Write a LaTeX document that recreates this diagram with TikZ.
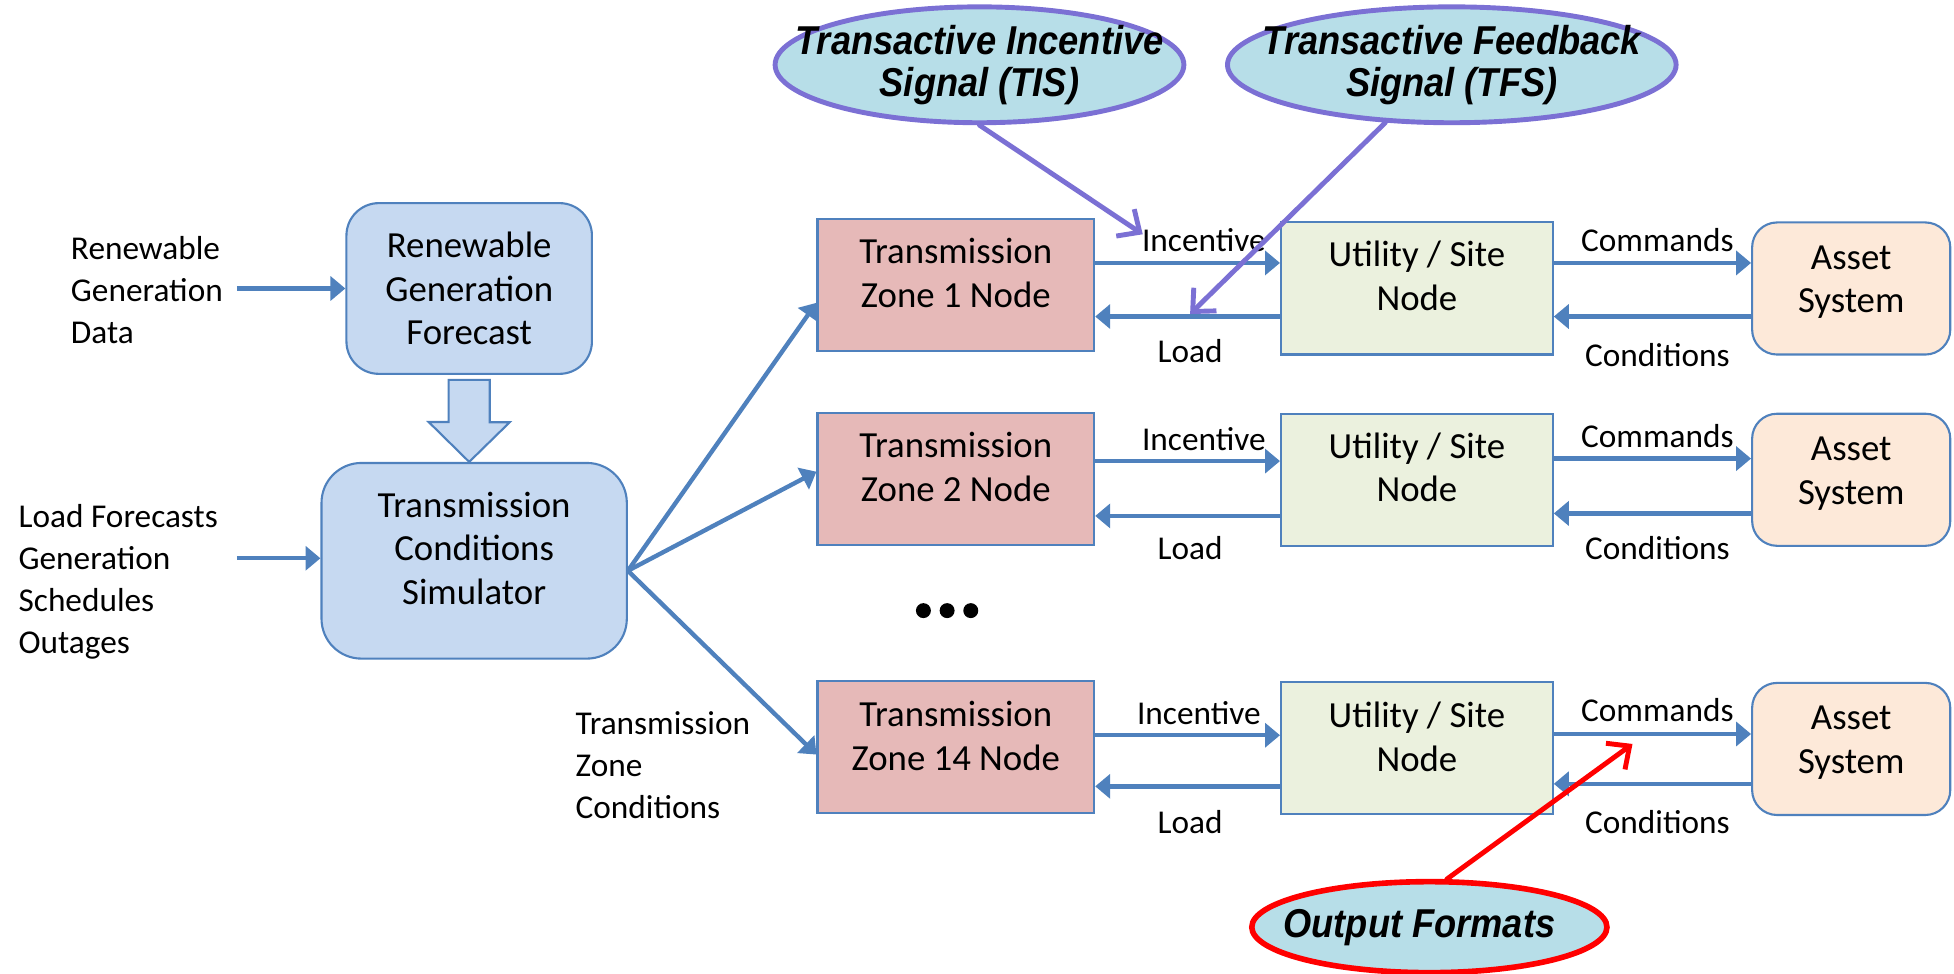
\documentclass[tikz,border=0pt]{standalone}
\usepackage{fontspec}
\setmainfont{Carlito}
\newfontfamily\calloutfont{Liberation Sans}
\usetikzlibrary{arrows.meta,calc,shapes.geometric}

\definecolor{boxline}{HTML}{4F81BD}
\definecolor{bluefill}{HTML}{C6D9F1}
\definecolor{pinkfill}{HTML}{E6B9B8}
\definecolor{greenfill}{HTML}{EBF1DE}
\definecolor{peachfill}{HTML}{FDE9D9}
\definecolor{calloutfill}{HTML}{B7DEE8}
\definecolor{calloutline}{HTML}{7B70D4}

\begin{document}
\begin{tikzpicture}[x=0.25mm,y=-0.25mm,
  box/.style={draw=boxline,line width=1.2pt,inner sep=0pt},
  bluebox/.style={box,fill=bluefill,rounded corners=6.5mm},
  zonebox/.style={box,fill=pinkfill,minimum width=55.5mm,minimum height=26.5mm},
  sitebox/.style={box,fill=greenfill,minimum width=54.5mm,minimum height=26.5mm},
  assetbox/.style={box,fill=peachfill,rounded corners=5mm,minimum width=39.75mm,minimum height=26.5mm},
  boxtext/.style={align=center,font=\fontsize{21}{25}\selectfont},
  sidetext/.style={align=left,font=\fontsize{19}{24}\selectfont},
  lbl/.style={font=\fontsize{19}{24}\selectfont},
  flow/.style={draw=boxline,line width=2.5pt,-{Triangle[length=3mm,width=4.8mm]}},
  callout/.style={ellipse,draw=calloutline,fill=calloutfill,line width=2.8pt,inner sep=0pt},
  callouttext/.style={align=center,xscale=0.9,font=\calloutfont\bfseries\itshape\fontsize{23}{24}\selectfont},
  pointer/.style={draw=calloutline,line width=2.8pt,line cap=round,
    -{Straight Barb[length=3.5mm,width=6.5mm]}},
]
\useasboundingbox (0,0) rectangle (1568,781);

% forecast and simulator
\node[bluebox,minimum width=49.25mm,minimum height=34.25mm] (rgf) at (376.5,231.5) {};
\node[boxtext] (rgftext) at (rgf) {Renewable\\Generation\\Forecast};
\node[bluebox,rounded corners=8mm,minimum width=61.25mm,minimum height=39.25mm] (tcs) at (380.5,450) {};
\node[boxtext] (tcstext) at ($(tcs)+(0,-10)$) {Transmission\\Conditions\\Simulator};

\draw[draw=boxline,fill=bluefill,line width=1.2pt]
  ($(rgf.south)+(-16.5,4)$) -- ++(33,0) -- ++(0,34) -- ++(16,0)
  -- (rgf.south |- tcs.north) -- ++(-32.5,-32) -- ++(16,0) -- cycle;

\node[sidetext,anchor=west] (rgdata) at (52,233) {Renewable\\Generation\\Data};
\coordinate (rgdataend) at (190,231.5);
\draw[flow] (rgdataend) -- (rgf.west);

\node[sidetext,anchor=west] (tcsinputs) at (10,467) {Load Forecasts\\Generation\\Schedules\\Outages};
\coordinate (tcsinputsend) at (190,448);
\draw[flow] (tcsinputsend) -- (tcs.west |- tcsinputsend);

\node[sidetext,anchor=west] (zonecond) at (457,614) {Transmission\\Zone\\Conditions};

% zone 1 row
\node[zonebox] (tz1) at (767,229) {};
\node[boxtext] (tz1text) at ($(tz1)+(0,-10)$) {Transmission\\Zone 1 Node};
\node[sitebox] (ut1) at (1137,231.5) {};
\node[boxtext] (ut1text) at ($(ut1)+(0,-10)$) {Utility / Site\\Node};
\node[assetbox] (as1) at (1485.5,231.5) {};
\node[boxtext] (as1text) at ($(as1)+(0,-5)$) {Asset\\System};
\draw[flow] (tz1.east |- 0,211) -- (ut1.west |- 0,211);
\draw[flow] (ut1.west |- 0,254) -- (tz1.east |- 0,254);
\draw[flow] (ut1.east |- 0,211) -- (as1.west |- 0,211);
\draw[flow] (as1.west |- 0,254) -- (ut1.east |- 0,254);
\node[lbl] (inc1) at (966,193) {Incentive};
\node[lbl] (load1) at (955,282) {Load};
\node[lbl] (cmd1) at (1330,193) {Commands};
\node[lbl] (cond1) at (1330,285) {Conditions};

% zone 2 row
\node[zonebox] (tz2) at (767,384.5) {};
\node[boxtext] (tz2text) at ($(tz2)+(0,-10)$) {Transmission\\Zone 2 Node};
\node[sitebox] (ut2) at (1137,385) {};
\node[boxtext] (ut2text) at ($(ut2)+(0,-10)$) {Utility / Site\\Node};
\node[assetbox] (as2) at (1485.5,385) {};
\node[boxtext] (as2text) at ($(as2)+(0,-5)$) {Asset\\System};
\draw[flow] (tz2.east |- 0,370) -- (ut2.west |- 0,370);
\draw[flow] (ut2.west |- 0,414) -- (tz2.east |- 0,414);
\draw[flow] (ut2.east |- 0,368) -- (as2.west |- 0,368);
\draw[flow] (as2.west |- 0,412) -- (ut2.east |- 0,412);
\node[lbl] (inc2) at (966,352) {Incentive};
\node[lbl] (load2) at (955,440) {Load};
\node[lbl] (cmd2) at (1330,350) {Commands};
\node[lbl] (cond2) at (1330,440) {Conditions};

% the rows in between
\fill (741,490) circle[radius=1.5mm];
\fill (760,490) circle[radius=1.5mm];
\fill (779,490) circle[radius=1.5mm];

% zone 14 row
\node[zonebox] (tz3) at (767,599.5) {};
\node[boxtext] (tz3text) at ($(tz3)+(0,-9)$) {Transmission\\Zone 14 Node};
\node[sitebox] (ut3) at (1137,600) {};
\node[boxtext] (ut3text) at ($(ut3)+(0,-9)$) {Utility / Site\\Node};
\node[assetbox] (as3) at (1485.5,601) {};
\node[boxtext] (as3text) at ($(as3)+(0,-5)$) {Asset\\System};
\draw[flow] (tz3.east |- 0,590) -- (ut3.west |- 0,590);
\draw[flow] (ut3.west |- 0,631) -- (tz3.east |- 0,631);
\draw[flow] (ut3.east |- 0,589) -- (as3.west |- 0,589);
\draw[flow] (as3.west |- 0,629) -- (ut3.east |- 0,629);
\node[lbl] (inc3) at (962,572) {Incentive};
\node[lbl] (load3) at (955,660) {Load};
\node[lbl] (cmd3) at (1330,570) {Commands};
\node[lbl] (cond3) at (1330,660) {Conditions};

% simulator out to the zones
\coordinate (hub) at ($(tcs.east)+(0,8)$);
\draw[flow] (hub) -- ($(tz1.west)+(0,14)$);
\draw[flow] (hub) -- ($(tz2.west)+(0,-6)$);
\draw[flow] (hub) -- ($(tz3.west)+(0,6)$);

% callouts
\node[callout,minimum width=82mm,minimum height=23.25mm] (tis) at (786,52) {};
\node[callouttext] (tistext) at (tis) {Transactive Incentive\\Signal (TIS)};
\node[callout,minimum width=90mm,minimum height=23.25mm] (tfs) at (1165,52) {};
\node[callouttext] (tfstext) at (tfs) {Transactive Feedback\\Signal (TFS)};
\node[callout,draw=red,line width=3.2pt,minimum width=71.25mm,minimum height=18.25mm] (outfmt) at (1147,744) {};
\node[callouttext] (outfmttext) at ($(outfmt)+(-8,0)$) {Output Formats};
\coordinate (tisend) at (917,188);
\coordinate (tfsend) at (955,252);
\coordinate (outfmtend) at (1310,597);
\draw[pointer] (tis.south) -- (tisend);
\draw[pointer] (tfs.221) -- (tfsend);
\draw[pointer,draw=red] (outfmt.70) -- (outfmtend);
\end{tikzpicture}
\end{document}
